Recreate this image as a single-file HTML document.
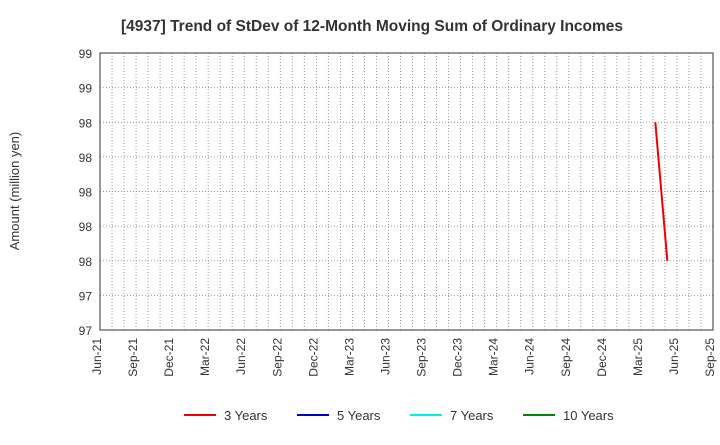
<!DOCTYPE html>
<html><head><meta charset="utf-8"><style>
body{margin:0;background:#fff;font-family:"Liberation Sans",sans-serif;}
</style></head><body>
<svg id="chart" width="720" height="440" xmlns="http://www.w3.org/2000/svg" font-family="Liberation Sans, sans-serif">
<text x="372" y="31" text-anchor="middle" font-size="15.5" font-weight="bold" fill="#333">[4937]  Trend of StDev of 12-Month Moving Sum of Ordinary Incomes</text>
<text transform="translate(19,191) rotate(-90)" text-anchor="middle" font-size="13" fill="#333">Amount (million yen)</text>
<g id="grid"></g>
<g id="axes"></g>
<g id="series"></g>
<g id="legend"></g>
</svg>
<script>
const xLabels=["Jun-21","Sep-21","Dec-21","Mar-22","Jun-22","Sep-22","Dec-22","Mar-23","Jun-23","Sep-23","Dec-23","Mar-24","Jun-24","Sep-24","Dec-24","Mar-25","Jun-25","Sep-25"];
const yTicks=[97,97.25,97.5,97.75,98,98.25,98.5,98.75,99];
const yTickLabels=["97","97","98","98","98","98","98","99","99"];
const series3Months=[46.2,47.2]; // months since Jun-21
const series3Values=[98.5,97.5];
const seriesNames=["3 Years","5 Years","7 Years","10 Years"];
const seriesColors=["#e00","#00c","#0ee","#080"];

const L=100,R=713,T=53,B=330,NM=51;
const X=m=>L+(R-L)*m/NM;
const Y=v=>B-(B-T)*(v-97)/2;
const ns="http://www.w3.org/2000/svg";
function mk(tag,attrs,parent){const e=document.createElementNS(ns,tag);for(const k in attrs)e.setAttribute(k,attrs[k]);parent.appendChild(e);return e;}
const grid=document.getElementById('grid'),axes=document.getElementById('axes'),ser=document.getElementById('series'),leg=document.getElementById('legend');
for(let m=1;m<NM;m++){const l=mk('line',{x1:X(m),x2:X(m),y1:T,y2:B,stroke:'#999','stroke-dasharray':'1,2','stroke-width':1},grid);

}
yTicks.forEach((v,i)=>{
 if(i>0&&i<yTicks.length-1){const l=mk('line',{x1:L,x2:R,y1:Y(v),y2:Y(v),stroke:'#999','stroke-dasharray':'1,2'},grid);
 
 }
 const t=mk('text',{x:L-8,y:Y(v)+5,'text-anchor':'end','font-size':12,fill:'#333'},axes);t.textContent=yTickLabels[i];
 
 
});
const fr=mk('rect',{x:L,y:T,width:R-L,height:B-T,fill:'none',stroke:'#333'},axes);


xLabels.forEach((s,i)=>{const x=X(i*3);
 const t=mk('text',{transform:`translate(${x+1},${B+8}) rotate(-90)`,'text-anchor':'end','font-size':12,fill:'#333'},axes);t.textContent=s;
 
 });
const pts=series3Months.map((m,i)=>X(m)+','+Y(series3Values[i])).join(' ');
const pl=mk('polyline',{points:pts,fill:'none',stroke:'#e00','stroke-width':2},ser);


const lx=[184,297,410,523];
seriesNames.forEach((n,i)=>{
 const g=mk('g',{},leg);
 
 
 mk('line',{x1:lx[i],x2:lx[i]+32,y1:415,y2:415,stroke:seriesColors[i],'stroke-width':2},g);
 const t=mk('text',{x:lx[i]+40,y:420,'font-size':13,fill:'#333'},g);t.textContent=n;
});
</script>
</body></html>
